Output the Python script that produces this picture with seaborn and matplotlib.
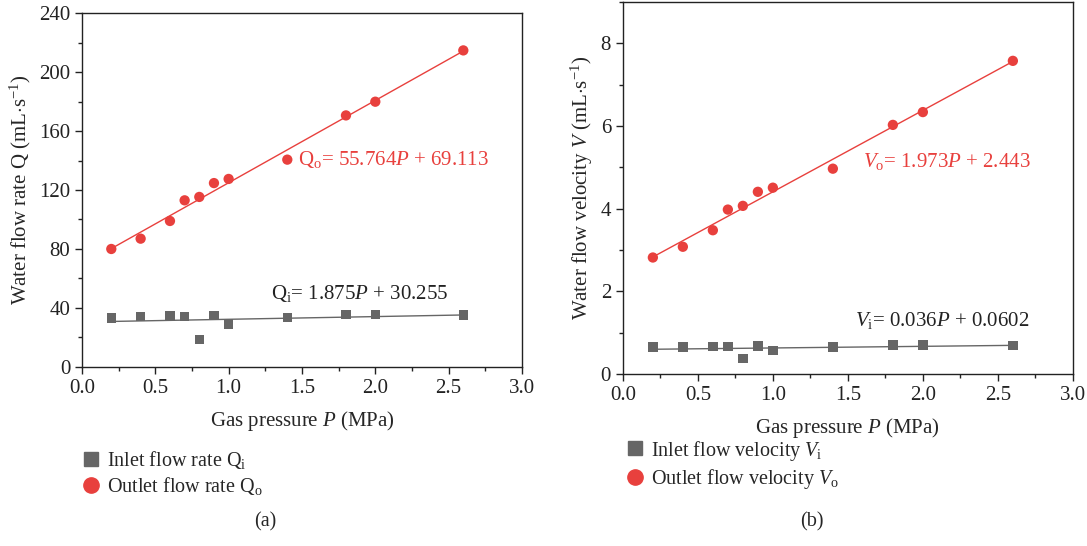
import matplotlib
matplotlib.use("Agg")
import matplotlib.pyplot as plt
from matplotlib.ticker import MultipleLocator
from matplotlib.lines import Line2D
import seaborn as sns
import pandas as pd

# Gas pressure (MPa)
pressure = [0.2, 0.4, 0.6, 0.7, 0.8, 0.9, 1.0, 1.4, 1.8, 2.0, 2.6]

# (a) water flow rate Q (mL/s)
inlet_q = [33.2, 34.0, 34.5, 34.0, 18.5, 34.8, 29.2, 33.4, 35.5, 35.5, 35.3]
outlet_q = [80.0, 87.0, 99.0, 113.0, 115.3, 124.7, 127.5, 140.6, 170.6, 179.9, 214.7]

# (b) water flow velocity V
inlet_v = [0.65, 0.65, 0.67, 0.66, 0.37, 0.68, 0.57, 0.65, 0.70, 0.70, 0.69]
outlet_v = [2.82, 3.08, 3.48, 3.98, 4.07, 4.41, 4.51, 4.97, 6.03, 6.34, 7.58]

RED = "#e8403d"
GRAY = "#666666"
FS = 15

sns.set_theme(style="white")
plt.rcParams["font.family"] = ["Liberation Serif", "DejaVu Serif"]
plt.rcParams["mathtext.fontset"] = "custom"
plt.rcParams["mathtext.rm"] = "Liberation Serif"
plt.rcParams["mathtext.it"] = "Liberation Serif:italic"

df_a = pd.DataFrame({"P": pressure, "inlet": inlet_q, "outlet": outlet_q})
df_b = pd.DataFrame({"P": pressure, "inlet": inlet_v, "outlet": outlet_v})

fig = plt.figure(figsize=(10.87, 5.46), dpi=100)
ax1 = fig.add_axes([0.0754, 0.328, 0.4048, 0.648])
ax2 = fig.add_axes([0.573, 0.315, 0.414, 0.681])


def draw_panel(ax, df):
    sns.regplot(data=df, x="P", y="inlet", ax=ax, scatter=False, ci=None,
                color=GRAY, line_kws={"lw": 1.0})
    sns.regplot(data=df, x="P", y="outlet", ax=ax, scatter=False, ci=None,
                color=RED, line_kws={"lw": 1.0})
    sns.scatterplot(data=df, x="P", y="inlet", ax=ax, marker="s", s=45,
                    color=GRAY, edgecolor="none", zorder=3)
    sns.scatterplot(data=df, x="P", y="outlet", ax=ax, marker="o", s=55,
                    color=RED, edgecolor="none", zorder=3)
    ax.set_xlim(0, 3.0)
    ax.xaxis.set_major_locator(MultipleLocator(0.5))
    ax.xaxis.set_minor_locator(MultipleLocator(0.25))
    ax.xaxis.set_major_formatter(plt.FormatStrFormatter("%.1f"))
    ax.tick_params(which="both", direction="out", bottom=True, left=True,
                   labelsize=FS, colors="#222222")
    ax.tick_params(which="major", length=5, width=1)
    ax.tick_params(which="minor", length=3, width=1)
    for sp in ax.spines.values():
        sp.set_color("#222222")
        sp.set_linewidth(1.0)
    ax.set_xlabel("Gas pressure $\\mathit{P}$ (MPa)", fontsize=FS, labelpad=8)


draw_panel(ax1, df_a)
ax1.set_ylim(0, 240)
ax1.yaxis.set_major_locator(MultipleLocator(40))
ax1.yaxis.set_minor_locator(MultipleLocator(20))
ax1.set_ylabel("Water flow rate Q (mL$\\cdot$s$^{-1}$)", fontsize=FS, labelpad=4)
ax1.text(1.47, 140.5, "Q$_\\mathrm{o}$= 55.764$\\mathit{P}$ + 69.113",
         color=RED, fontsize=FS, va="center")
ax1.text(1.29, 50, "Q$_\\mathrm{i}$= 1.875$\\mathit{P}$ + 30.255",
         color="#222222", fontsize=FS, va="center")

draw_panel(ax2, df_b)
ax2.set_ylim(0, 9)
ax2.yaxis.set_major_locator(MultipleLocator(2))
ax2.yaxis.set_minor_locator(MultipleLocator(1))
ax2.set_ylabel("Water flow velocity $\\mathit{V}$ (mL$\\cdot$s$^{-1}$)",
               fontsize=FS, labelpad=4)
ax2.text(1.6, 5.15, "$\\mathit{V}_\\mathrm{o}$= 1.973$\\mathit{P}$ + 2.443",
         color=RED, fontsize=FS, va="center")
ax2.text(1.55, 1.3, "$\\mathit{V}_\\mathrm{i}$= 0.036$\\mathit{P}$ + 0.0602",
         color="#222222", fontsize=FS, va="center")

# legends below each panel
h_a = [Line2D([], [], ls="", marker="s", ms=10, color=GRAY),
       Line2D([], [], ls="", marker="o", ms=11, color=RED)]
fig.legend(h_a, ["Inlet flow rate Q$_\\mathrm{i}$", "Outlet flow rate Q$_\\mathrm{o}$"],
           loc="upper left", bbox_to_anchor=(0.058, 0.21), frameon=False,
           fontsize=14.5, handletextpad=0.3, labelspacing=0.2, handlelength=1.0)

h_b = [Line2D([], [], ls="", marker="s", ms=10, color=GRAY),
       Line2D([], [], ls="", marker="o", ms=11, color=RED)]
fig.legend(h_b, ["Inlet flow velocity $\\mathit{V}_\\mathrm{i}$",
                 "Outlet flow velocity $\\mathit{V}_\\mathrm{o}$"],
           loc="upper left", bbox_to_anchor=(0.558, 0.23), frameon=False,
           fontsize=14.5, handletextpad=0.3, labelspacing=0.2, handlelength=1.0)

fig.text(0.244, 0.044, "(a)", ha="center", va="center", fontsize=14.5)
fig.text(0.747, 0.044, "(b)", ha="center", va="center", fontsize=14.5)

fig.savefig("out.png", dpi=100)
